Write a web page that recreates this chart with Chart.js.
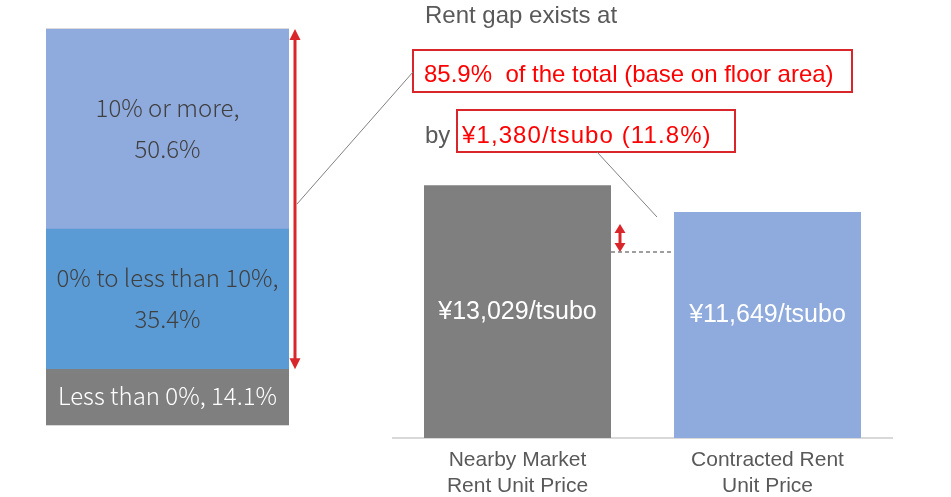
<!DOCTYPE html>
<html><head><meta charset="utf-8">
<script src="https://cdn.jsdelivr.net/npm/chart.js@4"></script>
<style>
html,body{margin:0;padding:0;background:#fff;width:951px;height:497px;overflow:hidden}
canvas{position:absolute;left:0;top:0}
</style></head><body>
<canvas id="c1" width="951" height="497"></canvas>
<canvas id="c2" width="951" height="514"></canvas>
<script>
// ---- data ----
const segNames = ['Less than 0%', '0% to less than 10%', '10% or more'];
const segValues = [14.1, 35.4, 50.6];
const segColors = ['#7F7F7F', '#5B9BD5', '#8FAADC'];

const priceCategories = [['Nearby Market', 'Rent Unit Price'], ['Contracted Rent', 'Unit Price']];
const priceValues = [13029, 11649];
const priceColors = ['#7F7F7F', '#8FAADC'];

const headline = 'Rent gap exists at';
const shareText = '85.9%  of the total (base on floor area)';
const byText = 'by';
const gapText = '\u00A51,380/tsubo (11.8%)';

const fmtYen = v => '\u00A5' + v.toLocaleString('en-US') + '/tsubo';
const segTotal = segValues.reduce((a, b) => a + b, 0);

const ARIAL = '"Liberation Sans", Arial, sans-serif';
const JP = '"Noto Sans CJK JP", "Noto Sans", sans-serif';

// ---- left stacked bar ----
const segLabelPlugin = {
  id: 'segLabels',
  beforeDatasetsDraw(chart) {
    const {ctx, chartArea: a} = chart;
    ctx.save();
    ctx.strokeStyle = '#D9D9D9';
    ctx.lineWidth = 1;
    ctx.beginPath();
    ctx.moveTo(a.left, a.top - 0.5); ctx.lineTo(a.right, a.top - 0.5);
    ctx.moveTo(a.left, a.bottom + 0.5); ctx.lineTo(a.right, a.bottom + 0.5);
    ctx.stroke();
    ctx.restore();
  },
  afterDatasetsDraw(chart) {
    const ctx = chart.ctx;
    ctx.save();
    ctx.font = '300 24px ' + JP;
    ctx.textAlign = 'center';
    ctx.textBaseline = 'alphabetic';
    segNames.forEach((name, i) => {
      const bar = chart.getDatasetMeta(i).data[0];
      const yc = (bar.y + bar.base) / 2;
      const val = segValues[i].toFixed(1) + '%';
      if (i === 0) {
        ctx.fillStyle = '#FFFFFF';
        ctx.fillText(name + ', ' + val, bar.x, yc + 8);
      } else {
        ctx.fillStyle = '#404040';
        ctx.fillText(name + ',', bar.x, yc - 12);
        ctx.fillText(val, bar.x, yc + 29);
      }
    });
    ctx.restore();
  }
};

const chart1 = new Chart(document.getElementById('c1'), {
  type: 'bar',
  data: {
    labels: [''],
    datasets: segNames.map((n, i) => ({
      label: n, data: [segValues[i]], backgroundColor: segColors[i],
      borderWidth: 0, barPercentage: 1, categoryPercentage: 1
    }))
  },
  options: {
    responsive: false, animation: false,
    layout: {padding: {left: 46, right: 662, top: 29, bottom: 72}},
    plugins: {legend: {display: false}, tooltip: {enabled: false}},
    scales: {
      x: {stacked: true, display: false},
      y: {stacked: true, display: false, min: 0, max: segTotal}
    }
  },
  plugins: [segLabelPlugin]
});

// ---- right bar chart ----
function doubleArrow(ctx, x, y1, y2, color, lw, headLen, headW) {
  ctx.save();
  ctx.strokeStyle = color; ctx.fillStyle = color; ctx.lineWidth = lw;
  ctx.beginPath(); ctx.moveTo(x, y1 + headLen - 1); ctx.lineTo(x, y2 - headLen + 1); ctx.stroke();
  ctx.beginPath(); ctx.moveTo(x, y1); ctx.lineTo(x - headW / 2, y1 + headLen); ctx.lineTo(x + headW / 2, y1 + headLen); ctx.closePath(); ctx.fill();
  ctx.beginPath(); ctx.moveTo(x, y2); ctx.lineTo(x - headW / 2, y2 - headLen); ctx.lineTo(x + headW / 2, y2 - headLen); ctx.closePath(); ctx.fill();
  ctx.restore();
}

const annotPlugin = {
  id: 'annot',
  afterDatasetsDraw(chart) {
    const ctx = chart.ctx;
    const bars = chart.getDatasetMeta(0).data;
    ctx.save();
    ctx.font = '25px ' + ARIAL;
    ctx.fillStyle = '#FFFFFF';
    ctx.textAlign = 'center';
    ctx.textBaseline = 'middle';
    bars.forEach((b, i) => {
      const yc = (b.y + b.base) / 2 - (i === 1 ? 10 : 0);
      ctx.fillText(fmtYen(priceValues[i]), b.x, yc);
    });
    ctx.restore();
  },
  afterDraw(chart) {
    const ctx = chart.ctx;
    const bars = chart.getDatasetMeta(0).data;
    ctx.save();
    ctx.textAlign = 'left';
    ctx.textBaseline = 'alphabetic';
    ctx.font = '24px ' + ARIAL;
    ctx.fillStyle = '#595959';
    ctx.fillText(headline, 425, 23);
    ctx.fillText(byText, 425, 143);
    ctx.fillStyle = '#FF0000';
    ctx.fillText(shareText, 424, 82);
    ctx.letterSpacing = '1.1px';
    ctx.fillText(gapText, 462, 143);
    ctx.letterSpacing = '0px';
    ctx.strokeStyle = '#D9262B';
    ctx.lineWidth = 2;
    ctx.strokeRect(413, 50, 439, 42);
    ctx.strokeRect(457, 110, 278, 42);
    ctx.strokeStyle = '#808080';
    ctx.lineWidth = 1;
    ctx.beginPath();
    ctx.moveTo(297, 204); ctx.lineTo(413, 72);
    ctx.moveTo(597, 152); ctx.lineTo(657, 217);
    ctx.stroke();
    const b0 = bars[0], b1 = bars[1];
    ctx.setLineDash([4, 3]);
    ctx.lineWidth = 1.5;
    ctx.beginPath();
    ctx.moveTo(b0.x + b0.width / 2, 252); ctx.lineTo(b1.x - b1.width / 2, 252);
    ctx.stroke();
    ctx.setLineDash([]);
    ctx.restore();
    const y1 = chart1.scales.y;
    doubleArrow(ctx, 295, y1.getPixelForValue(segTotal), y1.getPixelForValue(segValues[0]), '#D9262B', 3, 11, 11);
    doubleArrow(ctx, 620, 224, 252, '#D9262B', 3, 9, 11);
  }
};

const chart2 = new Chart(document.getElementById('c2'), {
  type: 'bar',
  data: {
    labels: priceCategories,
    datasets: [{
      data: priceValues, backgroundColor: priceColors, borderWidth: 0,
      barPercentage: 0.748, categoryPercentage: 1
    }]
  },
  options: {
    responsive: false, animation: false,
    layout: {padding: {left: 392.5, right: 58.5, top: 147, bottom: 5.6}},
    plugins: {legend: {display: false}, tooltip: {enabled: false}},
    scales: {
      x: {
        grid: {display: false, drawTicks: false},
        border: {color: '#D9D9D9', width: 2},
        ticks: {color: '#595959', font: {family: ARIAL, size: 21}, padding: 10, maxRotation: 0, autoSkip: false}
      },
      y: {display: false, min: 0, max: 15000}
    }
  },
  plugins: [annotPlugin]
});
</script>
</body></html>
